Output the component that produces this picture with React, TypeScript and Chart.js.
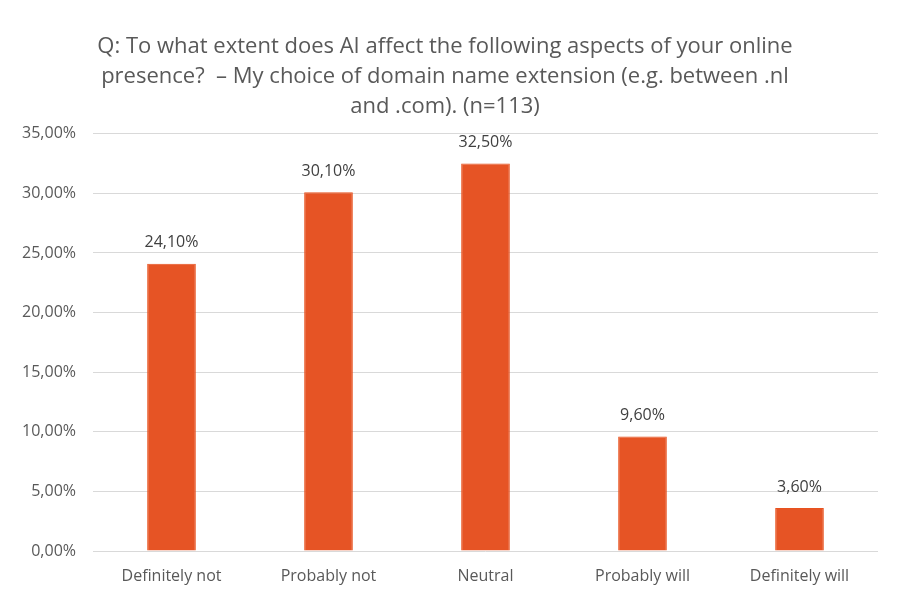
import React, { useRef, useEffect } from 'react';
import { Chart, registerables } from 'chart.js';

Chart.register(...registerables);

const categories = ['Definitely not', 'Probably not', 'Neutral', 'Probably will', 'Definitely will'];
const shares = [24.1, 30.1, 32.5, 9.6, 3.6];
const titleLines = [
  'Q: To what extent does AI affect the following aspects of your online',
  'presence?  \u2013 My choice of domain name extension (e.g. between .nl',
  'and .com). (n=113)',
];

const FONT = '"Open Sans", "Noto Sans", sans-serif';
const pct = (v: number) => v.toFixed(2).replace('.', ',') + '%';

// writes the value above each bar
const barLabels = {
  id: 'barLabels',
  afterDatasetsDraw(chart: any) {
    const ctx = chart.ctx;
    const meta = chart.getDatasetMeta(0);
    ctx.save();
    ctx.font = `16px ${FONT}`;
    ctx.fillStyle = '#404040';
    ctx.textAlign = 'center';
    ctx.textBaseline = 'middle';
    meta.data.forEach((bar: any, i: number) => {
      ctx.fillText(pct(shares[i]), bar.x, bar.y - 21);
    });
    ctx.restore();
  },
};

const App = () => {
  const chartContainer = useRef<HTMLCanvasElement>(null);

  useEffect(() => {
    if (!chartContainer.current) return;
    const chart = new Chart(chartContainer.current, {
      type: 'bar',
      data: {
        labels: categories,
        datasets: [
          {
            data: shares,
            backgroundColor: '#E65425',
            borderColor: '#E8521F',
            borderWidth: 1,
            barPercentage: 0.31,
            categoryPercentage: 1,
          },
        ],
      },
      options: {
        responsive: false,
        animation: false,
        layout: { padding: { left: 10, right: 20, top: 0, bottom: 12 } },
        scales: {
          y: {
            min: 0,
            max: 35,
            ticks: {
              stepSize: 5,
              callback: (v: any) => pct(Number(v)),
              color: '#595959',
              font: { family: FONT, size: 16 },
              padding: 17,
            },
            grid: { color: '#D9D9D9', lineWidth: 1, drawTicks: false },
            border: { display: false },
            afterFit: (scale: any) => {
              scale.width = 81;
            },
          },
          x: {
            ticks: {
              color: '#595959',
              font: { family: FONT, size: 16 },
              padding: 16,
            },
            grid: { display: false, drawTicks: false },
            border: { display: false },
            afterFit: (scale: any) => {
              scale.height = 35;
            },
          },
        },
        plugins: {
          legend: { display: false },
          tooltip: { enabled: false },
          title: {
            display: true,
            text: titleLines,
            color: '#595959',
            font: { family: FONT, size: 22, weight: 'normal', lineHeight: 1.36 },
            padding: { top: 30, bottom: 12 },
          },
        },
      },
      plugins: [barLabels],
    });
    return () => {
      chart.destroy();
    };
  }, []);

  return (
    <div
      style={{
        width: 900,
        height: 600,
        boxSizing: 'border-box',
        border: '2px solid #D9D9D9',
        borderRadius: 6,
        background: '#fff',
        margin: -8,
      }}
    >
      <canvas ref={chartContainer} width={896} height={596} style={{ display: 'block' }} />
    </div>
  );
};

export default App;
